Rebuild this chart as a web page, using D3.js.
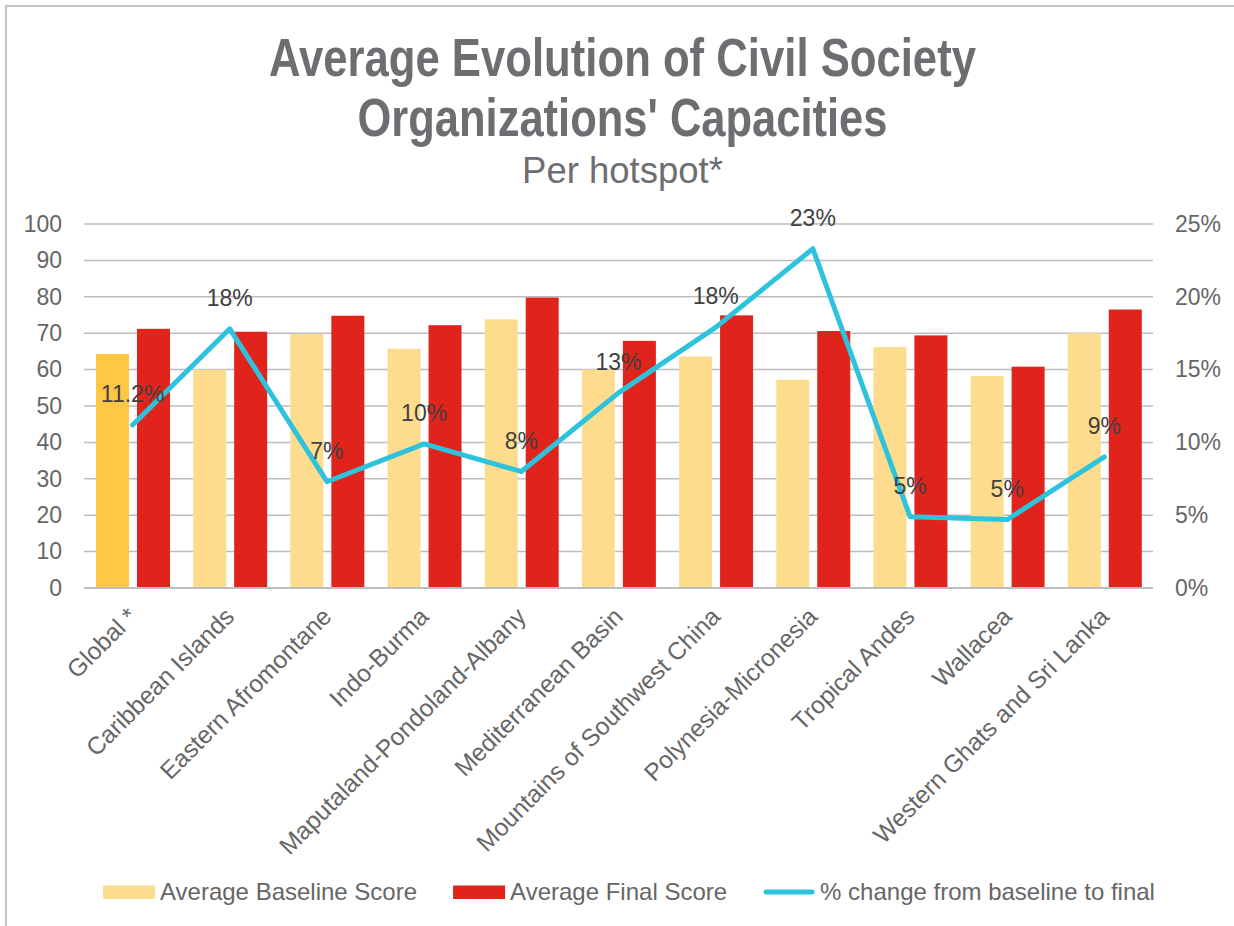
<!DOCTYPE html>
<html>
<head>
<meta charset="utf-8">
<script src="https://cdn.jsdelivr.net/npm/d3@7"></script>
<style>
  body { margin: 0; background: #fff; }
  svg { display: block; font-family: "Liberation Sans", Arial, sans-serif; }
</style>
</head>
<body>
<div id="chart"></div>
<script>
// datos
const categories = ["Global *", "Caribbean Islands", "Eastern Afromontane", "Indo-Burma",
  "Maputaland-Pondoland-Albany", "Mediterranean Basin", "Mountains of Southwest China",
  "Polynesia-Micronesia", "Tropical Andes", "Wallacea", "Western Ghats and Sri Lanka"];
const baselineScores = [64.3, 60.0, 69.8, 65.7, 73.8, 60.0, 63.6, 57.2, 66.2, 58.2, 70.0];
const finalScores = [71.2, 70.4, 74.8, 72.2, 79.8, 67.9, 74.9, 70.6, 69.4, 60.8, 76.5];
const pctChange = [11.2, 17.8, 7.3, 9.9, 8.0, 13.4, 17.9, 23.3, 4.9, 4.7, 9.0];
const pctLabels = ["11.2%", "18%", "7%", "10%", "8%", "13%", "18%", "23%", "5%", "5%", "9%"];
const leftTicks = [0, 10, 20, 30, 40, 50, 60, 70, 80, 90, 100];
const rightTicks = [0, 5, 10, 15, 20, 25];
const legendNames = ["Average Baseline Score", "Average Final Score", "% change from baseline to final"];

const WIDTH = 1234;
const HEIGHT = 926;
const PLOT_LEFT = 84, PLOT_RIGHT = 1153, PLOT_TOP = 224, PLOT_BOTTOM = 588;

const COLOR_BASE = "#fedc8e";
const COLOR_GLOBAL = "#fec843";
const COLOR_FINAL = "#e0241c";
const COLOR_LINE = "#2ec3dd";
const COLOR_TEXT = "#666666";

const SVG = d3.select("#chart").append("svg")
  .attr("width", WIDTH).attr("height", HEIGHT);

// marco gris
SVG.append("rect")
  .attr("x", 6).attr("y", 6)
  .attr("width", WIDTH + 10).attr("height", HEIGHT + 10)
  .attr("fill", "none")
  .attr("stroke", "#c3c3c7")
  .attr("stroke-width", 2);

// titulo
const titleLines = [
  { text: "Average Evolution of Civil Society", y: 76, len: 707 },
  { text: "Organizations' Capacities", y: 136, len: 530 }
];
SVG.selectAll(".title").data(titleLines).join("text")
  .attr("class", "title")
  .attr("x", 622.5).attr("y", d => d.y)
  .attr("text-anchor", "middle")
  .attr("font-size", 54).attr("font-weight", "bold")
  .attr("fill", "#6d6e71")
  .attr("textLength", d => d.len)
  .attr("lengthAdjust", "spacingAndGlyphs")
  .text(d => d.text);

SVG.append("text")
  .attr("x", 622.5).attr("y", 183)
  .attr("text-anchor", "middle")
  .attr("font-size", 36.5)
  .attr("fill", "#6d6e71")
  .text("Per hotspot*");

// escalas
const x0 = d3.scaleBand().domain(categories).range([PLOT_LEFT, PLOT_RIGHT]).padding(0);
const x1 = d3.scaleBand().domain(["base", "final"])
  .range([12, x0.bandwidth() - 11.2]).paddingInner(0.195).paddingOuter(0);
const y = d3.scaleLinear().domain([0, 100]).range([PLOT_BOTTOM, PLOT_TOP]);
const y2 = d3.scaleLinear().domain([0, 25]).range([PLOT_BOTTOM, PLOT_TOP]);

// grilla
SVG.append("g").selectAll("line").data(leftTicks).join("line")
  .attr("x1", PLOT_LEFT).attr("x2", PLOT_RIGHT)
  .attr("y1", d => y(d)).attr("y2", d => y(d))
  .attr("stroke", "#bdbdc1").attr("stroke-width", 1.5);

// eje izquierdo
const leftAxis = SVG.append("g")
  .attr("transform", `translate(${PLOT_LEFT - 22},0)`)
  .call(d3.axisLeft(y).tickValues(leftTicks).tickSize(0).tickPadding(0));
leftAxis.select(".domain").remove();
leftAxis.selectAll("text")
  .attr("font-size", 23).attr("fill", COLOR_TEXT)
  .attr("font-family", "Liberation Sans, Arial, sans-serif");

// eje derecho
const rightAxis = SVG.append("g")
  .attr("transform", `translate(${PLOT_RIGHT + 22},0)`)
  .call(d3.axisRight(y2).tickValues(rightTicks).tickFormat(d => d + "%").tickSize(0).tickPadding(0));
rightAxis.select(".domain").remove();
rightAxis.selectAll("text")
  .attr("font-size", 23).attr("fill", COLOR_TEXT)
  .attr("font-family", "Liberation Sans, Arial, sans-serif");

// barras
const rows = categories.map((c, i) => ({
  cat: c, i: i, base: baselineScores[i], final: finalScores[i],
  pct: pctChange[i], label: pctLabels[i]
}));

const groups = SVG.append("g").selectAll("g").data(rows).join("g")
  .attr("transform", d => `translate(${x0(d.cat)},0)`);

groups.append("rect")
  .attr("x", x1("base")).attr("width", x1.bandwidth())
  .attr("y", d => y(d.base)).attr("height", d => y(0) - y(d.base))
  .attr("fill", d => d.i === 0 ? COLOR_GLOBAL : COLOR_BASE);

groups.append("rect")
  .attr("x", x1("final")).attr("width", x1.bandwidth())
  .attr("y", d => y(d.final)).attr("height", d => y(0) - y(d.final))
  .attr("fill", COLOR_FINAL);

// linea base del eje x
SVG.append("line")
  .attr("x1", PLOT_LEFT).attr("x2", PLOT_RIGHT)
  .attr("y1", y(0)).attr("y2", y(0))
  .attr("stroke", "#bdbdc1").attr("stroke-width", 2);

// etiquetas x
const cx = d => x0(d.cat) + x0.bandwidth() / 2;
SVG.append("g").selectAll("text").data(rows).join("text")
  .attr("transform", d => `translate(${cx(d) + 6},${y(0) + 30}) rotate(-45)`)
  .attr("text-anchor", "end")
  .attr("font-size", 24.5).attr("fill", COLOR_TEXT)
  .text(d => d.cat);

// linea de % cambio
const line = d3.line().x(d => cx(d)).y(d => y2(d.pct));
SVG.append("path")
  .datum(rows)
  .attr("d", line)
  .attr("fill", "none")
  .attr("stroke", COLOR_LINE)
  .attr("stroke-width", 5)
  .attr("stroke-linejoin", "round")
  .attr("stroke-linecap", "round");

SVG.append("g").selectAll("text").data(rows).join("text")
  .attr("x", d => cx(d))
  .attr("y", d => y2(d.pct) - 23)
  .attr("text-anchor", "middle")
  .attr("font-size", 23).attr("fill", "#404040")
  .text(d => d.label);

// leyenda
const legend = SVG.append("g");
let lx = 103;
legendNames.forEach((name, i) => {
  if (i < 2) {
    legend.append("rect")
      .attr("x", lx).attr("y", 885.5)
      .attr("width", 52).attr("height", 13.5)
      .attr("fill", i === 0 ? COLOR_BASE : COLOR_FINAL);
  } else {
    legend.append("line")
      .attr("x1", lx + 3).attr("x2", lx + 49)
      .attr("y1", 892).attr("y2", 892)
      .attr("stroke", COLOR_LINE).attr("stroke-width", 5)
      .attr("stroke-linecap", "round");
  }
  const t = legend.append("text")
    .attr("x", lx + 57).attr("y", 899.5)
    .attr("font-size", 24).attr("fill", COLOR_TEXT)
    .text(name);
  lx = lx + 57 + t.node().getComputedTextLength() + 36;
});
</script>
</body>
</html>
